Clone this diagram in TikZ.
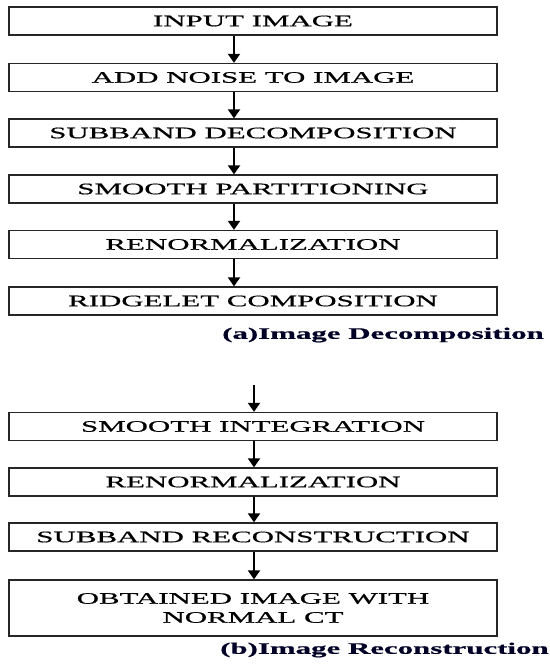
\documentclass[tikz,border=0pt]{standalone}
\usepackage{fontspec}
\setmainfont{Liberation Serif}[FakeStretch=1.93,FakeBold=0.6]
\usetikzlibrary{arrows.meta}
\begin{document}
\begin{tikzpicture}[x=1pt,y=-1pt,
  stepbox/.style={draw=black!85,line width=1.3pt,minimum width=488pt,minimum height=28pt,inner sep=0pt,
    font=\fontsize{16}{19}\selectfont,align=center,text=black},
  arr/.style={line width=2pt,-{Triangle[width=12pt,length=9pt]}},
  capt/.style={anchor=west,inner sep=0pt,font=\fontsize{16}{19}\selectfont\bfseries,text=black!85!blue}]
\useasboundingbox (0,0) rectangle (549,664);
\node[stepbox] (b1) at (253,21) {INPUT IMAGE};
\node[stepbox] (b2) at (253,77.5) {ADD NOISE TO IMAGE};
\node[stepbox] (b3) at (253,133) {SUBBAND DECOMPOSITION};
\node[stepbox] (b4) at (253,189) {SMOOTH PARTITIONING};
\node[stepbox] (b5) at (253,244.5) {RENORMALIZATION};
\node[stepbox] (b6) at (253,301) {RIDGELET COMPOSITION};
\node[capt] (ca) at (222,335) {(a)Image Decomposition};
\node[stepbox] (b7) at (253,426.5) {SMOOTH INTEGRATION};
\node[stepbox] (b8) at (253,482) {RENORMALIZATION};
\node[stepbox] (b9) at (253,537) {SUBBAND RECONSTRUCTION};
\node[stepbox,minimum height=56pt] (b10) at (253,608) {OBTAINED IMAGE WITH\\NORMAL CT};
\node[capt] (cb) at (220,650) {(b)Image Reconstruction};
\coordinate (xa) at (234,0);
\coordinate (xb) at (254,0);
\coordinate (s7) at (254,385);
\draw[arr] (b1.south -| xa) -- (b2.north -| xa);
\draw[arr] (b2.south -| xa) -- (b3.north -| xa);
\draw[arr] (b3.south -| xa) -- (b4.north -| xa);
\draw[arr] (b4.south -| xa) -- (b5.north -| xa);
\draw[arr] (b5.south -| xa) -- (b6.north -| xa);
\draw[arr] (s7) -- (b7.north -| xb);
\draw[arr] (b7.south -| xb) -- (b8.north -| xb);
\draw[arr] (b8.south -| xb) -- (b9.north -| xb);
\draw[arr] (b9.south -| xb) -- (b10.north -| xb);
\end{tikzpicture}
\end{document}
